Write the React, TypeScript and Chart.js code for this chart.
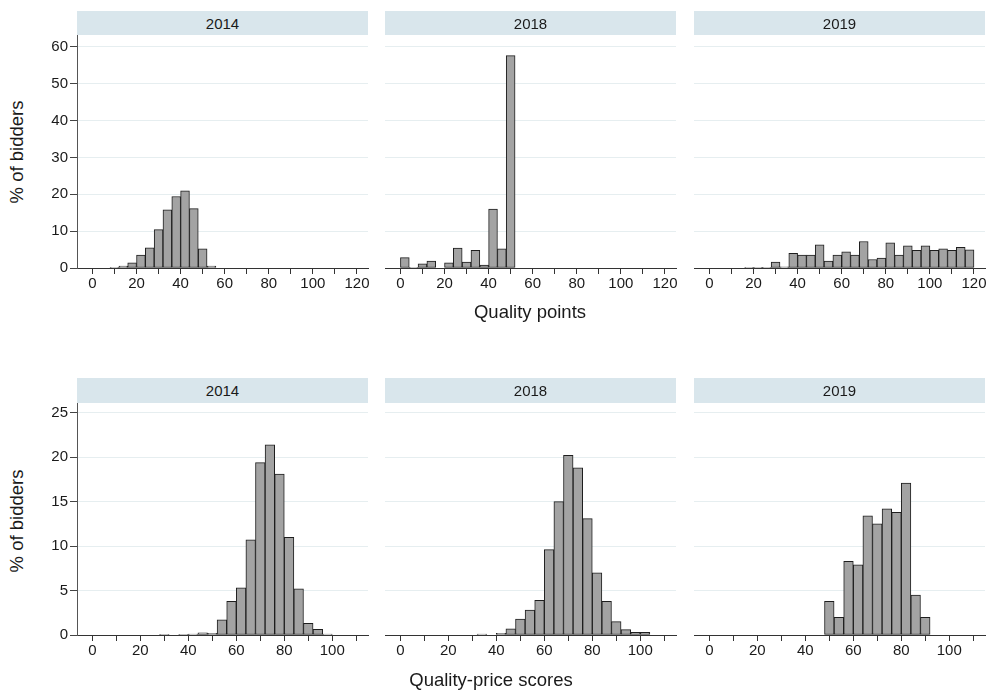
import React, { useEffect, useRef } from 'react';
import { Chart, registerables } from 'chart.js';

Chart.register(...registerables);

const FONT = "'Liberation Sans', Arial, Helvetica, sans-serif";

// Panel years
const years = ['2014', '2018', '2019'];

// Bin width (points) shared by all histograms
const binWidth = 4;

// Top row: Quality points, % of bidders per 4-point bin
const qualityBinStarts = [8, 0, 16];
const quality2014 = [0.2, 0.5, 1.4, 3.5, 5.5, 10.4, 15.8, 19.4, 20.9, 16.1, 5.2, 0.5];
const quality2018 = [2.8, 0.2, 1.1, 1.9, 0, 1.4, 5.4, 1.6, 4.8, 0.8, 16.0, 5.2, 57.6];
const quality2019 = [0.2, 0.2, 0.2, 1.6, 0.3, 4.0, 3.5, 3.5, 6.3, 1.9, 3.5, 4.4, 3.5, 7.2, 2.3, 2.7, 6.8, 3.5, 6.0, 4.8, 6.0, 4.8, 5.2, 4.8, 5.6, 4.9];

// Bottom row: Quality-price scores, % of bidders per 4-point bin
const scoreBinStarts = [28, 32, 48];
const score2014 = [0.05, 0, 0.05, 0.1, 0.25, 0.2, 1.7, 3.8, 5.3, 10.7, 19.4, 21.4, 18.1, 11.0, 5.2, 1.3, 0.65, 0.1];
const score2018 = [0.1, 0, 0.2, 0.7, 1.8, 2.8, 3.9, 9.6, 15.0, 20.2, 18.8, 13.1, 7.0, 3.8, 1.5, 0.6, 0.3, 0.3];
const score2019 = [3.8, 2.0, 8.3, 7.9, 13.4, 12.5, 14.2, 13.8, 17.1, 4.5, 2.0];

// Tick values
const qualityXTicks = [0, 10, 20, 30, 40, 50, 60, 70, 80, 90, 100, 110, 120];
const scoreXTicks = [0, 10, 20, 30, 40, 50, 60, 70, 80, 90, 100, 110];
const qualityYTicks = [0, 10, 20, 30, 40, 50, 60];
const scoreYTicks = [0, 5, 10, 15, 20, 25];

// Axis ranges
const qualityXRange = [-7, 125];
const scoreXRange = [-6.4, 114.9];
const qualityYMax = 63.2;
const scoreYMax = 26.1;

// Layout (pixels)
const panelLefts = [77, 385, 694];
const panelWidth = 291;
const Y_AXIS_W = 40;
const PAD_TOP = 14;
const PAD_RIGHT = 10;
const X_AXIS_H = 30;

type PanelProps = {
  values: number[];
  start: number;
  xTicks: number[];
  yTicks: number[];
  xRange: number[];
  yMax: number;
  showY: boolean;
  left: number;
  plotTop: number;
  plotHeight: number;
};

function Panel(props: PanelProps) {
  const ref = useRef<HTMLCanvasElement | null>(null);
  const { values, start, xTicks, yTicks, xRange, yMax, showY, left, plotTop, plotHeight } = props;
  const cw = Y_AXIS_W + panelWidth + PAD_RIGHT;
  const ch = PAD_TOP + plotHeight + X_AXIS_H;

  useEffect(() => {
    if (!ref.current) return;
    const data = values.map((v, i) => ({ x: start + i * binWidth + binWidth / 2, y: v }));
    const chart = new Chart(ref.current, {
      type: 'bar',
      data: {
        datasets: [
          {
            data: data as any,
            backgroundColor: '#a3a3a3',
            borderColor: '#1e1e1e',
            borderWidth: 1,
            borderSkipped: false,
            barPercentage: 1,
            categoryPercentage: 1,
          },
        ],
      },
      options: {
        animation: false,
        responsive: false,
        layout: { padding: { top: PAD_TOP, right: PAD_RIGHT, left: 0, bottom: 0 } },
        plugins: {
          legend: { display: false },
          tooltip: { enabled: false },
          title: { display: false },
        },
        scales: {
          x: {
            type: 'linear',
            offset: false,
            min: xRange[0],
            max: xRange[1],
            afterBuildTicks: (s: any) => {
              s.ticks = xTicks.map((v) => ({ value: v }));
            },
            afterFit: (s: any) => {
              s.height = X_AXIS_H;
            },
            grid: {
              offset: false,
              drawOnChartArea: false,
              drawTicks: true,
              tickLength: 6,
              tickColor: '#333',
              tickWidth: 1,
            },
            border: { display: true, color: '#333', width: 1 },
            ticks: {
              autoSkip: false,
              maxRotation: 0,
              minRotation: 0,
              padding: 1,
              color: '#1a1a1a',
              font: { size: 15, family: FONT },
              callback: (v: any) => (Number(v) % 20 === 0 ? String(v) : ''),
            },
          },
          y: {
            type: 'linear',
            min: 0,
            max: yMax,
            afterBuildTicks: (s: any) => {
              s.ticks = yTicks.map((v) => ({ value: v }));
            },
            afterFit: (s: any) => {
              s.width = Y_AXIS_W;
            },
            grid: {
              color: (ctx: any) => (ctx.tick && ctx.tick.value === 0 ? 'rgba(0,0,0,0)' : '#e6eef0'),
              drawTicks: showY,
              tickLength: 7,
              tickColor: '#444',
            },
            border: { display: showY, color: '#555', width: 1 },
            ticks: {
              display: showY,
              padding: 2,
              color: '#1a1a1a',
              font: { size: 15, family: FONT },
            },
          },
        },
      },
    } as any);
    return () => chart.destroy();
  }, []);

  return (
    <canvas
      ref={ref}
      width={cw}
      height={ch}
      style={{
        position: 'absolute',
        left: left - Y_AXIS_W,
        top: plotTop - PAD_TOP,
        width: cw,
        height: ch,
      }}
    />
  );
}

function Strip({ left, top, height, label }: { left: number; top: number; height: number; label: string }) {
  return (
    <div
      style={{
        position: 'absolute',
        left,
        top,
        width: panelWidth,
        height,
        background: '#d9e6ec',
        display: 'flex',
        alignItems: 'center',
        justifyContent: 'center',
        font: `15px ${FONT}`,
        color: '#1a1a1a',
        zIndex: 2,
      }}
    >
      {label}
    </div>
  );
}

function Text({ cx, cy, text, rotate }: { cx: number; cy: number; text: string; rotate?: boolean }) {
  const w = 240;
  const h = 22;
  return (
    <div
      style={{
        position: 'absolute',
        left: cx - w / 2,
        top: cy - h / 2,
        width: w,
        height: h,
        lineHeight: `${h}px`,
        textAlign: 'center',
        font: `18.5px ${FONT}`,
        color: '#1a1a1a',
        transform: rotate ? 'rotate(-90deg)' : undefined,
        whiteSpace: 'nowrap',
      }}
    >
      {text}
    </div>
  );
}

export default function App() {
  const qualitySeries = [quality2014, quality2018, quality2019];
  const scoreSeries = [score2014, score2018, score2019];
  return (
    <div
      style={{
        position: 'absolute',
        left: 0,
        top: 0,
        width: 989,
        height: 693,
        overflow: 'hidden',
        background: '#ffffff',
        fontFamily: FONT,
      }}
    >
      {years.map((y, i) => (
        <Strip key={'ts' + i} left={panelLefts[i]} top={11} height={24} label={y} />
      ))}
      {years.map((y, i) => (
        <Strip key={'bs' + i} left={panelLefts[i]} top={378} height={25} label={y} />
      ))}
      {qualitySeries.map((vals, i) => (
        <Panel
          key={'q' + i}
          values={vals}
          start={qualityBinStarts[i]}
          xTicks={qualityXTicks}
          yTicks={qualityYTicks}
          xRange={qualityXRange}
          yMax={qualityYMax}
          showY={i === 0}
          left={panelLefts[i]}
          plotTop={35}
          plotHeight={233}
        />
      ))}
      {scoreSeries.map((vals, i) => (
        <Panel
          key={'s' + i}
          values={vals}
          start={scoreBinStarts[i]}
          xTicks={scoreXTicks}
          yTicks={scoreYTicks}
          xRange={scoreXRange}
          yMax={scoreYMax}
          showY={i === 0}
          left={panelLefts[i]}
          plotTop={403}
          plotHeight={232}
        />
      ))}
      <Text cx={17} cy={152} text="% of bidders" rotate />
      <Text cx={17} cy={521} text="% of bidders" rotate />
      <Text cx={530} cy={312} text="Quality points" />
      <Text cx={491} cy={680} text="Quality-price scores" />
    </div>
  );
}
